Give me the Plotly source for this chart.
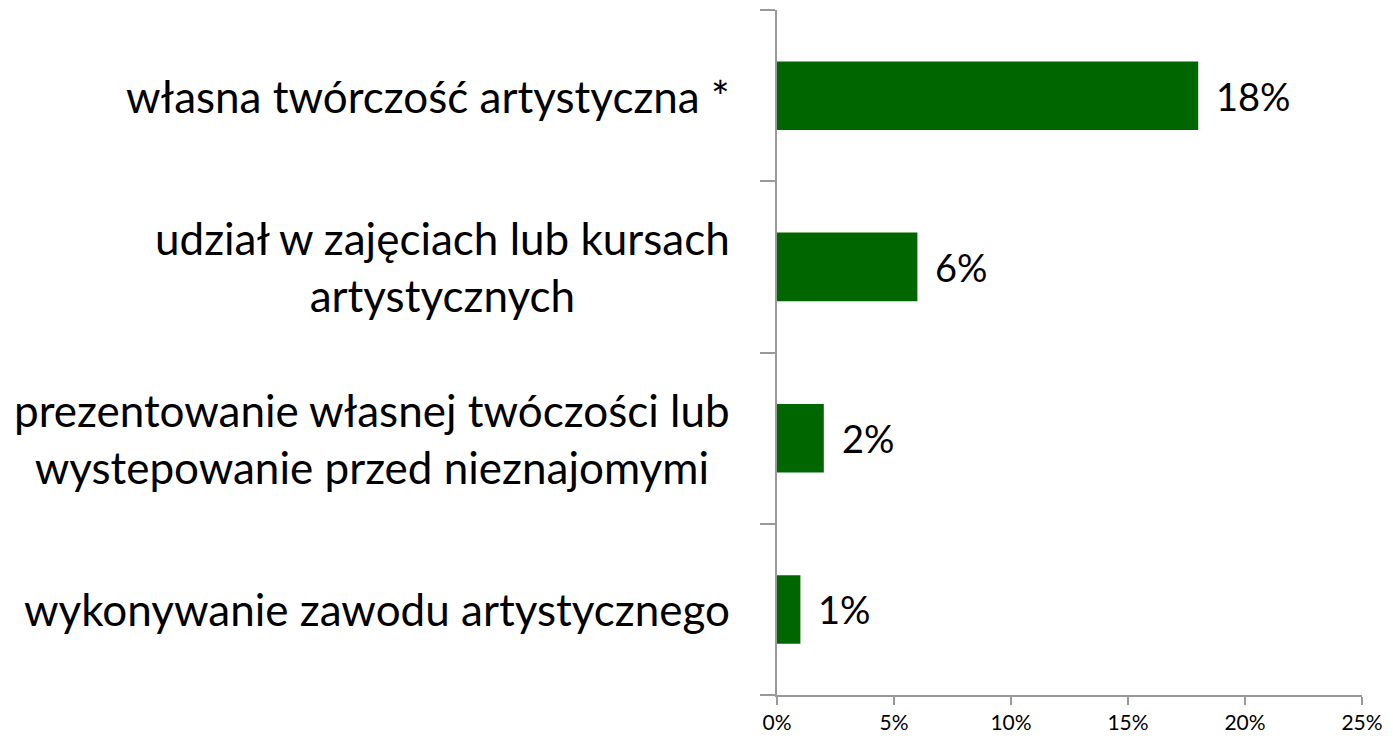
import plotly.graph_objects as go

categories = [
    "wykonywanie zawodu artystycznego",
    "prezentowanie własnej twóczości lub<br>wystepowanie przed nieznajomymi",
    "udział w zajęciach lub kursach<br>artystycznych",
    "własna twórczość artystyczna *",
]
values = [1, 2, 6, 18]
value_labels = ["1%", "2%", "6%", "18%"]
x_ticks = [0, 5, 10, 15, 20, 25]
x_tick_labels = ["0%", "5%", "10%", "15%", "20%", "25%"]

FONT = "Lato, 'Open Sans', sans-serif"

fig = go.Figure()
fig.add_trace(go.Bar(
    y=categories, x=values, orientation="h",
    marker=dict(color="#006600", line=dict(width=0)),
    width=0.4,
))

for cat, v, lab in zip(categories, values, value_labels):
    fig.add_annotation(
        x=0, xref="paper", y=cat, yref="y",
        text=cat, showarrow=False, xanchor="right", yanchor="middle",
        xshift=-45, align="center",
        font=dict(size=44, color="#000000", family=FONT),
    )
    fig.add_annotation(
        x=v, xref="x", y=cat, yref="y",
        text=lab, showarrow=False, xanchor="left", yanchor="middle",
        xshift=16,
        font=dict(size=38, color="#000000", family=FONT),
    )

fig.update_layout(
    width=1393, height=742,
    margin=dict(l=769, r=39, t=2, b=55),
    paper_bgcolor="white", plot_bgcolor="white",
    showlegend=False,
    bargap=0.6,
)
fig.update_xaxes(
    range=[0, 25], tickvals=x_ticks, ticktext=x_tick_labels,
    showgrid=False, zeroline=False,
    showline=True, linecolor="#999999", linewidth=2,
    ticks="outside", ticklen=8, tickcolor="#999999", tickwidth=2,
    tickfont=dict(size=21, color="#000000", family=FONT),
)
fig.update_yaxes(
    categoryorder="array", categoryarray=categories,
    showticklabels=False, showgrid=False, zeroline=False,
    showline=True, linecolor="#999999", linewidth=2,
    ticks="outside", ticklen=15, tickcolor="#999999", tickwidth=2,
    tickson="boundaries",
)

fig.write_html("out.html")
